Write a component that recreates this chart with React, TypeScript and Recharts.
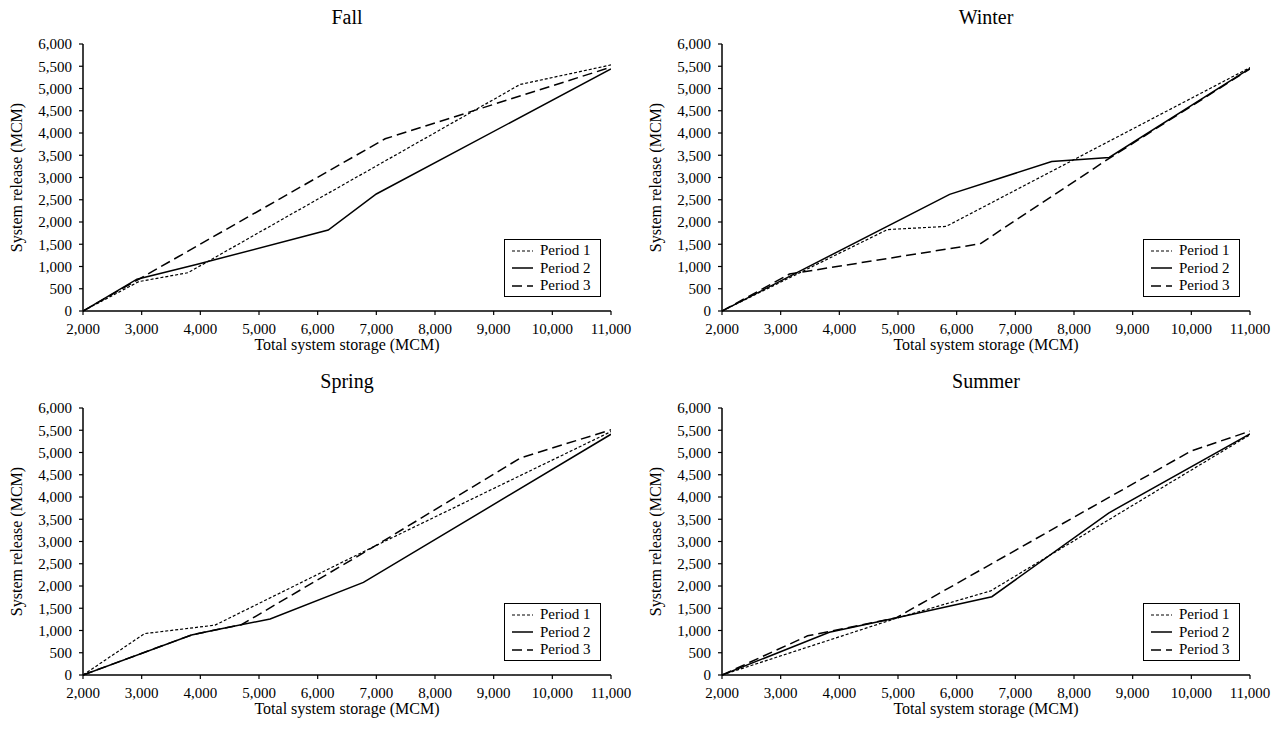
import React from 'react';
import { LineChart, Line, XAxis, YAxis, Legend } from 'recharts';

const FONT = "'Liberation Serif', 'Times New Roman', serif";

const xTicks = [2000, 3000, 4000, 5000, 6000, 7000, 8000, 9000, 10000, 11000];
const yTicks = [0, 500, 1000, 1500, 2000, 2500, 3000, 3500, 4000, 4500, 5000, 5500, 6000];
const seriesNames = ['Period 1', 'Period 2', 'Period 3'];

// [total storage, release] pairs
const fallP1 = [[2000, 0], [2950, 660], [3790, 860], [9450, 5090], [11000, 5530]];
const fallP2 = [[2000, 0], [2920, 715], [3950, 1050], [6180, 1820], [7000, 2630], [11000, 5440]];
const fallP3 = [[2000, 0], [7150, 3870], [11000, 5480]];

const winterP1 = [[2000, 0], [4820, 1830], [5820, 1900], [11000, 5470]];
const winterP2 = [[2000, 0], [5880, 2620], [7620, 3360], [8600, 3450], [11000, 5450]];
const winterP3 = [[2000, 0], [3150, 830], [6400, 1510], [8600, 3430], [11000, 5440]];

const springP1 = [[2000, 0], [3050, 930], [4250, 1120], [6980, 2900], [11000, 5470]];
const springP2 = [[2000, 0], [3850, 900], [4250, 1010], [5190, 1260], [6780, 2080], [11000, 5410]];
const springP3 = [[2000, 0], [3850, 900], [4250, 1010], [4700, 1130], [6980, 2900], [9460, 4880], [11000, 5510]];

const summerP1 = [[2000, 0], [4960, 1270], [6580, 1890], [11000, 5400]];
const summerP2 = [[2000, 0], [3830, 960], [4960, 1280], [6600, 1760], [8590, 3640], [11000, 5420]];
const summerP3 = [[2000, 0], [3460, 880], [4960, 1280], [9990, 5030], [11000, 5480]];

const lineStyles = [
  { dash: '3 2', width: 1.2 },
  { dash: undefined, width: 1.5 },
  { dash: '10 5', width: 1.5 },
];

const toPoints = (pairs: number[][]) => pairs.map(([x, y]) => ({ x, y }));
const fmt = (v: number) => v.toLocaleString('en-US');

const LegendBox = () => (
  <div
    style={{
      width: 97,
      boxSizing: 'border-box',
      border: '1.5px solid #000',
      background: '#fff',
      padding: '2px 0 1px 7px',
      fontFamily: FONT,
      fontSize: 15,
      color: '#000',
    }}
  >
    {seriesNames.map((name, i) => (
      <div key={name} style={{ display: 'flex', alignItems: 'center', height: 17.5 }}>
        <svg width={21} height={8} style={{ marginRight: 7 }}>
          <line x1={0} y1={4} x2={21} y2={4} stroke="#000" strokeWidth={lineStyles[i].width} strokeDasharray={lineStyles[i].dash} />
        </svg>
        <span>{name}</span>
      </div>
    ))}
  </div>
);

const YLabel = (props: any) => {
  const { x, y, height } = props.viewBox;
  const cx = x + 16;
  const cy = y + height / 2;
  return (
    <text
      x={cx}
      y={cy}
      transform={`rotate(-90 ${cx} ${cy})`}
      textAnchor="middle"
      dominantBaseline="central"
      fontFamily={FONT}
      fontSize={16}
      fill="#000"
    >
      System release (MCM)
    </text>
  );
};

const Panel = ({ title, left, top, series }: { title: string; left: number; top: number; series: number[][][] }) => (
  <div style={{ position: 'absolute', left, top, width: 640, height: 360 }}>
    <div
      style={{
        position: 'absolute',
        left: 83,
        top: 6,
        width: 528,
        textAlign: 'center',
        fontFamily: FONT,
        fontSize: 20,
        lineHeight: '22px',
        color: '#000',
      }}
    >
      {title}
    </div>
    <LineChart width={640} height={360} margin={{ top: 44, right: 29, bottom: 0, left: 0 }}>
      <XAxis
        type="number"
        dataKey="x"
        domain={[2000, 11000]}
        ticks={xTicks}
        allowDataOverflow
        height={49}
        tickSize={4}
        tickMargin={8}
        tickFormatter={fmt}
        axisLine={{ stroke: '#000', strokeWidth: 1.5 }}
        tickLine={{ stroke: '#000', strokeWidth: 1.2 }}
        tick={{ fill: '#000', fontSize: 15, fontFamily: FONT }}
        label={{ value: 'Total system storage (MCM)', position: 'insideBottom', offset: 10, fill: '#000', fontSize: 16, fontFamily: FONT }}
      />
      <YAxis
        type="number"
        domain={[0, 6000]}
        ticks={yTicks}
        width={83}
        tickSize={4}
        tickMargin={7}
        tickFormatter={fmt}
        axisLine={{ stroke: '#000', strokeWidth: 1.5 }}
        tickLine={{ stroke: '#000', strokeWidth: 1.2 }}
        tick={{ fill: '#000', fontSize: 15, fontFamily: FONT }}
        label={{ content: YLabel }}
      />
      <Legend
        layout="vertical"
        align="center"
        verticalAlign="middle"
        content={LegendBox}
        wrapperStyle={{ left: 504, top: 239, width: 97 }}
      />
      {series.map((pairs, i) => (
        <Line
          key={seriesNames[i]}
          name={seriesNames[i]}
          data={toPoints(pairs)}
          dataKey="y"
          type="linear"
          stroke="#000"
          strokeWidth={lineStyles[i].width}
          strokeDasharray={lineStyles[i].dash}
          dot={false}
          activeDot={false}
          isAnimationActive={false}
        />
      ))}
    </LineChart>
  </div>
);

export default function App() {
  return (
    <div style={{ position: 'absolute', left: 0, top: 0, width: 1276, height: 730, background: '#fff' }}>
      <Panel title="Fall" left={0} top={0} series={[fallP1, fallP2, fallP3]} />
      <Panel title="Winter" left={639} top={0} series={[winterP1, winterP2, winterP3]} />
      <Panel title="Spring" left={0} top={364} series={[springP1, springP2, springP3]} />
      <Panel title="Summer" left={639} top={364} series={[summerP1, summerP2, summerP3]} />
    </div>
  );
}
